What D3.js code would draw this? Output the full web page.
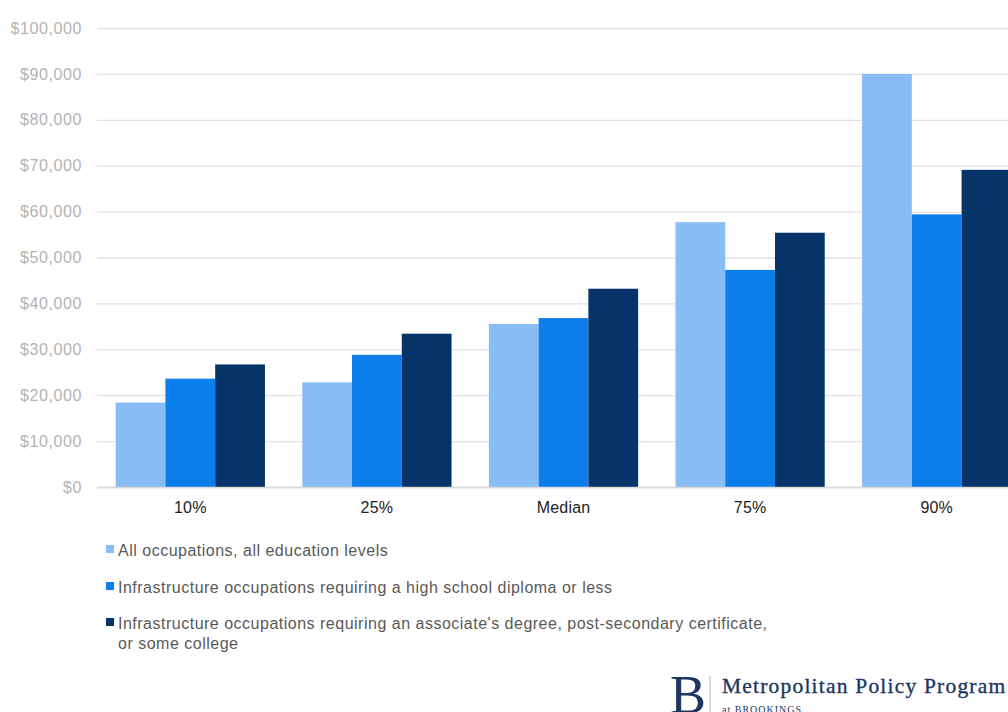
<!DOCTYPE html>
<html>
<head>
<meta charset="utf-8">
<script src="https://cdn.jsdelivr.net/npm/d3@7"></script>
<style>
  html, body { margin: 0; padding: 0; background: #fff; }
  svg { display: block; }
</style>
</head>
<body>
<svg id="chart" width="1008" height="712"></svg>
<script>
// Wage percentiles by occupation group
const categories = ["10%", "25%", "Median", "75%", "90%"];
const seriesNames = [
  "All occupations, all education levels",
  "Infrastructure occupations requiring a high school diploma or less",
  "Infrastructure occupations requiring an associate's degree, post-secondary certificate, or some college"
];
const allOccupations = [18400, 22800, 35500, 57700, 90000];
const infraHighSchool = [23600, 28800, 36800, 47300, 59400];
const infraAssociate = [26700, 33400, 43200, 55400, 69100];
const yTicks = [0, 10000, 20000, 30000, 40000, 50000, 60000, 70000, 80000, 90000, 100000];
const colors = ["#88bcf4", "#0b7eeb", "#063469"];

const series = [allOccupations, infraHighSchool, infraAssociate];

const svg = d3.select("#chart");
const margin = { left: 97, top: 28, bottom: 487 };
const plotRight = 1030;

const x = d3.scaleBand()
  .domain(categories)
  .range([margin.left, plotRight])
  .paddingInner(0.2)
  .paddingOuter(0.1);

const xInner = d3.scaleBand()
  .domain(d3.range(series.length))
  .range([0, x.bandwidth()]);

const y = d3.scaleLinear()
  .domain([0, 100000])
  .range([margin.bottom, margin.top]);

// Gridlines and y labels
const yAxis = d3.axisLeft(y)
  .tickValues(yTicks)
  .tickSize(-(plotRight - margin.left))
  .tickPadding(15)
  .tickFormat(d => "$" + d3.format(",")(d));

const gy = svg.append("g")
  .attr("transform", `translate(${margin.left},0)`)
  .call(yAxis);
gy.select(".domain").remove();
gy.selectAll(".tick line").attr("stroke", "#e2e2e2").attr("stroke-width", 1.3);
gy.selectAll(".tick text")
  .attr("fill", "#b3b3b3")
  .style("font-family", "'Liberation Sans', Arial, sans-serif")
  .style("font-size", "16px")
  .style("letter-spacing", "0.6px");

// Bars
const groups = svg.append("g").selectAll("g")
  .data(categories)
  .join("g")
  .attr("transform", d => `translate(${x(d)},0)`);

groups.selectAll("rect")
  .data((d, i) => series.map((s, k) => ({ k, v: s[i] })))
  .join("rect")
  .attr("x", d => xInner(d.k))
  .attr("width", xInner.bandwidth())
  .attr("y", d => y(d.v))
  .attr("height", d => y(0) - y(d.v))
  .attr("fill", d => colors[d.k]);

// Category axis
const xAxis = d3.axisBottom(x).tickSize(0).tickPadding(15);
const gx = svg.append("g")
  .attr("transform", `translate(0,${margin.bottom})`)
  .call(xAxis);
gx.select(".domain").attr("stroke", "#d9d9d9").attr("stroke-width", 1.3);
gx.selectAll(".tick text")
  .attr("fill", "#222")
  .style("font-family", "'Liberation Sans', Arial, sans-serif")
  .style("font-size", "16px")
  .style("letter-spacing", "0.2px");

// Legend
const legendLines = [
  [seriesNames[0]],
  [seriesNames[1]],
  ["Infrastructure occupations requiring an associate's degree, post-secondary certificate,", "or some college"]
];
const legendY = [550, 587, 623];
const legend = svg.append("g")
  .style("font-family", "'Liberation Sans', Arial, sans-serif")
  .style("font-size", "16px")
  .style("letter-spacing", "0.5px")
  .attr("fill", "#595959");

legendLines.forEach((lines, i) => {
  legend.append("rect")
    .attr("x", 106).attr("y", legendY[i] - 5)
    .attr("width", 8).attr("height", 8)
    .attr("fill", colors[i]);
  const t = legend.append("text")
    .attr("x", 118).attr("y", legendY[i] + 6);
  lines.forEach((line, j) => {
    t.append("tspan").attr("x", 118).attr("dy", j === 0 ? 0 : 20).text(line);
  });
});

// Program logo
const logo = svg.append("g").attr("fill", "#1e3660")
  .style("font-family", "'Liberation Serif', 'DejaVu Serif', serif");
logo.append("text").attr("x", 670).attr("y", 713)
  .style("font-size", "54px").text("B");
logo.append("line")
  .attr("x1", 710).attr("x2", 710).attr("y1", 676).attr("y2", 712)
  .attr("stroke", "#aab3c2").attr("stroke-width", 1);
logo.append("text").attr("x", 722).attr("y", 693)
  .style("font-size", "21.5px")
  .style("letter-spacing", "1.2px")
  .attr("stroke", "#1e3660").attr("stroke-width", 0.35)
  .text("Metropolitan Policy Program");
logo.append("text").attr("x", 722).attr("y", 713)
  .style("font-size", "10px")
  .style("letter-spacing", "1px")
  .text("at BROOKINGS");
</script>
</body>
</html>
